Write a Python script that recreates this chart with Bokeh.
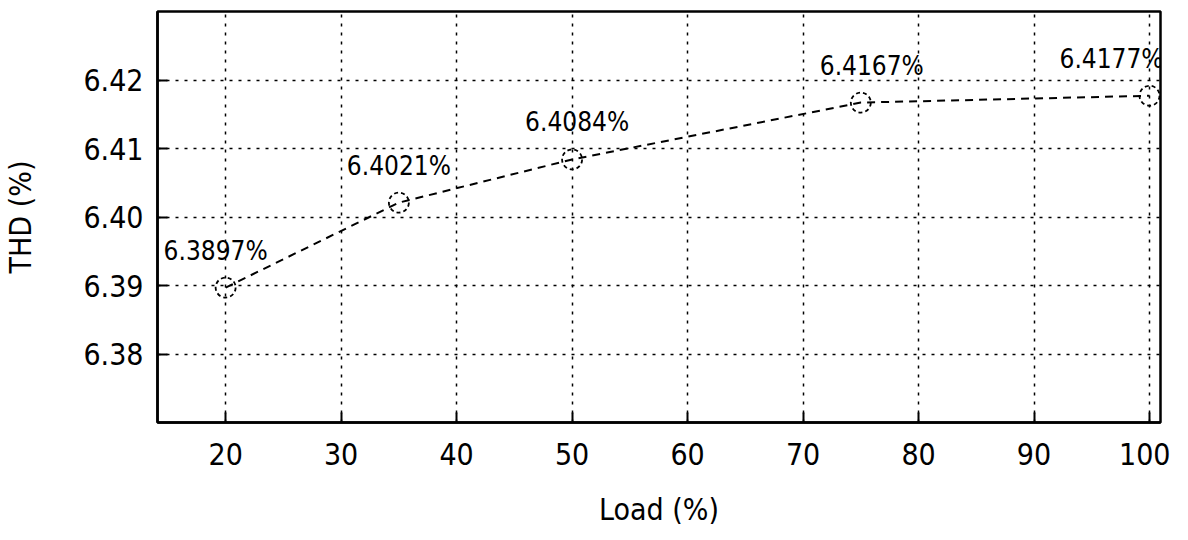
from bokeh.plotting import figure
from bokeh.models import ColumnDataSource, Range1d, FixedTicker
from bokeh.core.properties import value
from bokeh.embed import file_html
from bokeh.resources import INLINE

load = [20, 35, 50, 75, 100]
thd = [6.3897, 6.4021, 6.4084, 6.4167, 6.4177]
labels = ["6.3897%", "6.4021%", "6.4084%", "6.4167%", "6.4177%"]
label_dx = [-10, 0, 5, 11, -38]
x_ticks = [20, 30, 40, 50, 60, 70, 80, 90, 100]
y_ticks = [6.38, 6.39, 6.40, 6.41, 6.42]
y_tick_labels = {6.38: "6.38", 6.39: "6.39", 6.40: "6.40", 6.41: "6.41", 6.42: "6.42"}

FONT = "'DejaVu Sans Condensed', 'Liberation Sans', sans-serif"

p = figure(width=1170, height=532, output_backend="svg", toolbar_location=None,
           x_range=Range1d(14.1, 100.95), y_range=Range1d(6.37, 6.43),
           min_border_left=157, min_border_right=10, min_border_top=11, min_border_bottom=110)
p.background_fill_color = "white"
p.border_fill_color = "white"
p.outline_line_color = "black"
p.outline_line_width = 2.5

for ax in (p.xaxis, p.yaxis):
    ax.axis_line_color = "black"
    ax.axis_line_width = 2.5
    ax.major_tick_in = 10
    ax.major_tick_out = 0
    ax.minor_tick_line_color = None
    ax.major_tick_line_color = "black"
    ax.major_tick_line_width = 2
    ax.major_label_text_font = FONT
    ax.major_label_text_font_size = "30px"
    ax.major_label_text_color = "black"
    ax.axis_label_text_font = FONT
    ax.axis_label_text_font_size = "30px"
    ax.axis_label_text_font_style = "normal"
    ax.axis_label_text_color = "black"

p.xaxis.ticker = FixedTicker(ticks=x_ticks)
p.yaxis.ticker = FixedTicker(ticks=y_ticks)
p.yaxis.major_label_overrides = y_tick_labels
p.xaxis.major_label_standoff = 20
p.yaxis.major_label_standoff = 14
p.xaxis.axis_label = "Load (%)"
p.yaxis.axis_label = "THD (%)"
p.xaxis.axis_label_standoff = 24
p.yaxis.axis_label_standoff = 42

for g in (p.xgrid, p.ygrid):
    g.grid_line_color = "black"
    g.grid_line_dash = "3 6"
    g.grid_line_width = 1.5

src = ColumnDataSource(dict(x=load, y=thd, label=labels, dx=label_dx))
p.line("x", "y", source=src, line_color="black", line_width=2, line_dash="8 6")
p.scatter("x", "y", source=src, size=20, marker="circle", fill_color=None,
          line_color="black", line_width=1.8, line_dash="4 3")
p.text("x", "y", text="label", source=src, x_offset="dx", y_offset=-22,
       text_align="center", text_baseline="bottom", text_font=value(FONT),
       text_font_size="26px", text_color="black")

open("out.html", "w").write(file_html(p, INLINE))
